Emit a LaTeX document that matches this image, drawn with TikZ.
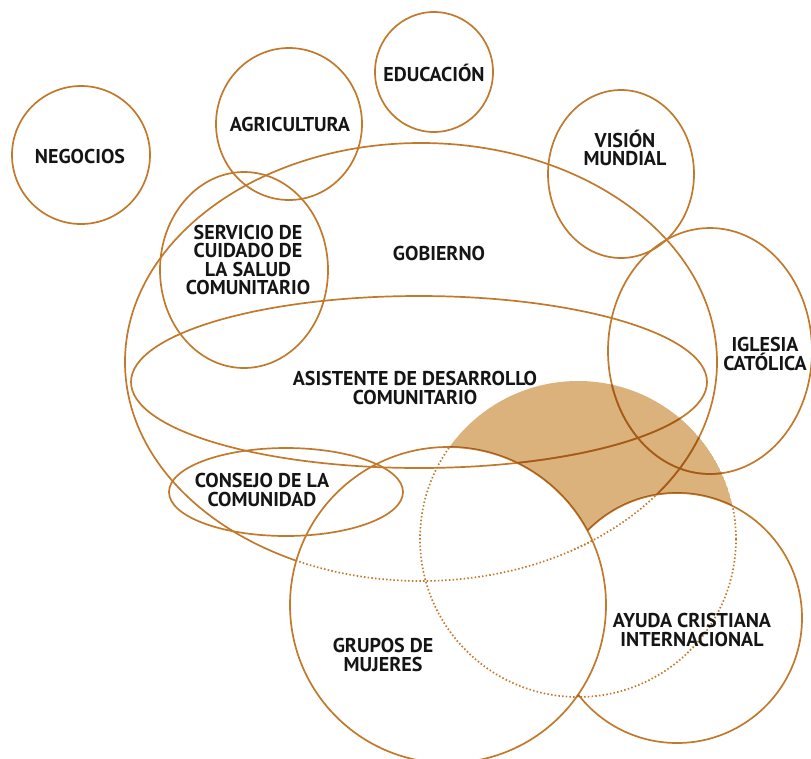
\documentclass[tikz,border=0pt]{standalone}
\usepackage{fontspec}
\setmainfont{PT Sans}
\definecolor{ln}{HTML}{C17A2C}
\definecolor{lnd}{HTML}{A65A18}
\definecolor{tanc}{HTML}{DBB27C}
\definecolor{txt}{HTML}{151515}
\tikzset{
  ring/.style={draw=ln, line width=1.7pt},
  darkring/.style={draw=lnd, line width=1.7pt},
  dotring/.style={draw=ln, line width=1.7pt, line cap=butt, dash pattern=on 1.5pt off 2.2pt},
  lbl/.style={font=\fontsize{20}{18.6}\selectfont\bfseries, text=txt, align=center, inner sep=0pt},
  invclip/.style={clip, insert path={(-1000,-1000) -- (2000,-1000) -- (2000,2000) -- (-1000,2000) -- cycle}}
}
\begin{document}
\begin{tikzpicture}[x=1pt,y=-1pt]
\useasboundingbox (0,0) rectangle (811,758);
% tan region: T minus G minus A
\begin{scope}
  \clip (578,539) circle[radius=158];
  \path[invclip] (606,605) arc[start angle=0, end angle=-360, radius=158];
  \path[invclip] (802,618) arc[start angle=0, end angle=-360, radius=125];
  \fill[tanc] (578,539) circle[radius=158];
\end{scope}
% Gobierno solid outside G and A
\begin{scope}
  \path[invclip] (606,605) arc[start angle=0, end angle=-360, radius=158];
  \path[invclip] (802,618) arc[start angle=0, end angle=-360, radius=125];
  \draw[ring] (421,362) ellipse[x radius=296, y radius=219];
\end{scope}
% dotted parts inside G
\begin{scope}
  \clip (448,605) circle[radius=158];
  \draw[dotring] (421,362) ellipse[x radius=296, y radius=219];
  \draw[dotring] (578,539) circle[radius=158];
\end{scope}
% dotted parts inside A
\begin{scope}
  \clip (677,618) circle[radius=125];
  \draw[dotring] (421,362) ellipse[x radius=296, y radius=219];
  \draw[dotring] (578,539) circle[radius=158];
\end{scope}
% other rings
\draw[ring] (81,155) circle[radius=69];
\draw[ring] (289,124) ellipse[x radius=73, y radius=76];
\draw[ring] (434,72) ellipse[x radius=59, y radius=60];
\draw[ring] (621,174) ellipse[x radius=73, y radius=84];
\draw[ring] (244,270) ellipse[x radius=84, y radius=98];
\draw[ring] (710,351) ellipse[x radius=102, y radius=123];
\draw[ring] (419,382) ellipse[x radius=288, y radius=86];
\draw[ring] (286,492) ellipse[x radius=117, y radius=44];
% Ayuda circle, hidden behind Grupos circle
\begin{scope}
  \path[invclip] (606,605) arc[start angle=0, end angle=-360, radius=158];
  \draw[ring] (677,618) circle[radius=125];
\end{scope}
\draw[ring] (448,605) circle[radius=158];
% darker strokes over the tan region
\begin{scope}
  \clip (578,539) circle[radius=158];
  \path[invclip] (606,605) arc[start angle=0, end angle=-360, radius=158];
  \path[invclip] (802,618) arc[start angle=0, end angle=-360, radius=125];
  \draw[darkring] (421,362) ellipse[x radius=296, y radius=219];
  \draw[darkring] (710,351) ellipse[x radius=102, y radius=123];
  \draw[darkring] (419,382) ellipse[x radius=288, y radius=86];
  \draw[darkring] (448,605) circle[radius=158];
  \draw[darkring] (677,618) circle[radius=125];
\end{scope}
% labels
\node[lbl] (neg) at (80,156) {NEGOCIOS};
\node[lbl] (agr) at (290,124) {AGRICULTURA};
\node[lbl] (edu) at (434,73) {EDUCACIÓN};
\node[lbl] (vis) at (625,148) {VISIÓN\\MUNDIAL};
\node[lbl] (gob) at (439,253) {GOBIERNO};
\node[lbl] (ser) at (248,260) {SERVICIO DE\\CUIDADO DE\\LA SALUD\\COMUNITARIO};
\node[lbl] (igl) at (765,354) {IGLESIA\\CATÓLICA};
\node[lbl] (asi) at (415,388) {ASISTENTE DE DESARROLLO\\COMUNITARIO};
\node[lbl] (con) at (262,490) {CONSEJO DE LA\\COMUNIDAD};
\node[lbl] (gru) at (383,655) {GRUPOS DE\\MUJERES};
\node[lbl] (ayu) at (692,630) {AYUDA CRISTIANA\\INTERNACIONAL};
\end{tikzpicture}
\end{document}
